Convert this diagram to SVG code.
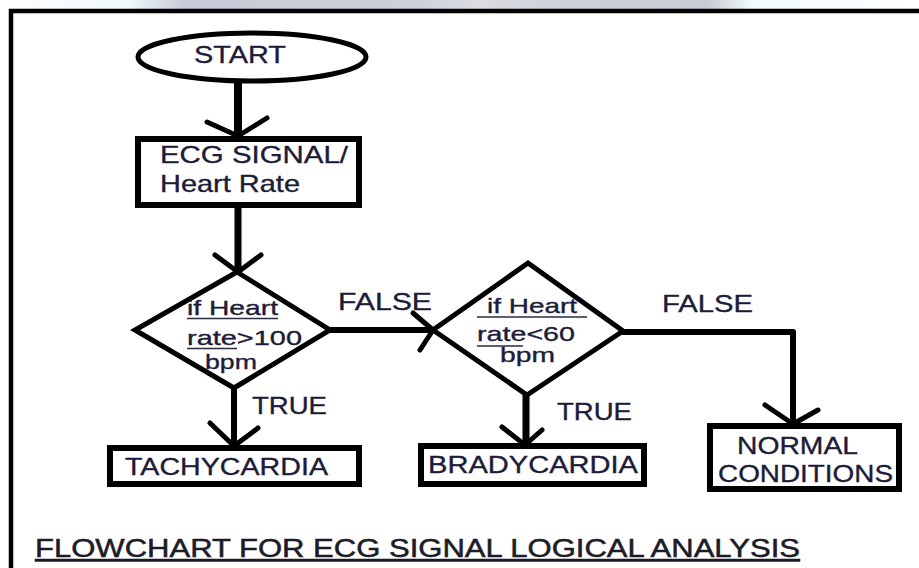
<svg xmlns="http://www.w3.org/2000/svg" width="919" height="568" viewBox="0 0 919 568">
<defs>
<linearGradient id="topg" x1="0" y1="0" x2="1" y2="0">
<stop offset="0" stop-color="#ffffff"/>
<stop offset="0.09" stop-color="#f6fafb"/>
<stop offset="0.14" stop-color="#eef8f9"/>
<stop offset="0.2" stop-color="#c9ccd8"/>
<stop offset="0.45" stop-color="#cdd0da"/>
<stop offset="0.52" stop-color="#dadce2"/>
<stop offset="0.6" stop-color="#cfd2d8"/>
<stop offset="0.77" stop-color="#c8ccd4"/>
<stop offset="0.82" stop-color="#f2fbfb"/>
<stop offset="1" stop-color="#ffffff"/>
</linearGradient>
</defs>
<style>
.ln{fill:none;stroke:#000;stroke-linecap:round;stroke-linejoin:round}
.shape{fill:#fff;stroke:#000;stroke-width:5;stroke-linejoin:miter}
.box{fill:#fff;stroke:#000;stroke-width:6}
.t{font-family:"Liberation Sans",Arial,sans-serif;font-size:24px;fill:#1c1c38;stroke:#1c1c38;stroke-width:0.35}
.s{font-size:21px}
.u{stroke:#2a2a40;stroke-width:1.5}
.title{font-family:"Liberation Sans Narrow","Liberation Sans",Arial,sans-serif;font-size:25px;fill:#1c1c28;stroke:#1c1c28;stroke-width:0.5}
</style>
<rect x="0" y="0" width="919" height="568" fill="#fff"/>
<rect x="0" y="0" width="919" height="10" fill="url(#topg)"/>
<path d="M11 568 V11 H919" fill="none" stroke="#000" stroke-width="4.5"/>

<g id="connectors">
<line class="ln" x1="238" y1="82" x2="238" y2="136" stroke-width="8"/>
<polyline class="ln" points="207,122 238,136 267,118" stroke-width="5"/>
<line class="ln" x1="238" y1="208" x2="238" y2="272" stroke-width="7"/>
<polyline class="ln" points="215,255 238,272 261,255" stroke-width="5"/>
<line class="ln" x1="330" y1="330" x2="433" y2="330" stroke-width="6"/>
<polyline class="ln" points="413,313 433,330 420,350" stroke-width="5"/>
<line class="ln" x1="234" y1="388" x2="234" y2="445" stroke-width="6"/>
<polyline class="ln" points="210,423 234,446 258,428" stroke-width="5"/>
<line class="ln" x1="526" y1="395" x2="526" y2="443" stroke-width="7"/>
<polyline class="ln" points="502,427 525,445 542,430" stroke-width="5"/>
<polyline class="ln" points="623,332 793,332 793,423" stroke-width="6"/>
<polyline class="ln" points="765,405 793,424 818,410" stroke-width="5"/>
<text class="t" x="338" y="310" textLength="94" lengthAdjust="spacingAndGlyphs">FALSE</text>
<text class="t" x="662" y="312" textLength="91" lengthAdjust="spacingAndGlyphs">FALSE</text>
<text class="t" x="252" y="414" textLength="75" lengthAdjust="spacingAndGlyphs">TRUE</text>
<text class="t" x="557" y="420" textLength="75" lengthAdjust="spacingAndGlyphs">TRUE</text>
</g>

<g id="start">
<ellipse class="shape" cx="252" cy="57" rx="114" ry="24"/>
<text class="t" x="194" y="63" font-size="25" textLength="92" lengthAdjust="spacingAndGlyphs">START</text>
</g>

<g id="ecg">
<rect class="box" x="138" y="139" width="221" height="66"/>
<text class="t" x="160" y="163" textLength="188" lengthAdjust="spacingAndGlyphs">ECG SIGNAL/</text>
<text class="t" x="160" y="192" textLength="140" lengthAdjust="spacingAndGlyphs">Heart Rate</text>
</g>

<g id="decision1">
<polygon class="shape" points="237,272 330,330 234,388 135,330"/>
<text class="t s" x="187" y="315" textLength="91" lengthAdjust="spacingAndGlyphs">if Heart</text>
<line class="u" x1="187" y1="318.5" x2="278" y2="318.5"/>
<text class="t s" x="187" y="345" textLength="115" lengthAdjust="spacingAndGlyphs">rate&gt;100</text>
<line class="u" x1="187" y1="348.5" x2="237" y2="348.5"/>
<text class="t s" x="205" y="369" textLength="52" lengthAdjust="spacingAndGlyphs">bpm</text>
</g>

<g id="decision2">
<polygon class="shape" points="528,263 623,331 527,395 433,330"/>
<text class="t s" x="487" y="313" textLength="90" lengthAdjust="spacingAndGlyphs">if Heart</text>
<line class="u" x1="477" y1="317" x2="587" y2="317"/>
<text class="t s" x="477" y="341" textLength="98" lengthAdjust="spacingAndGlyphs">rate&lt;60</text>
<line class="u" x1="477" y1="346" x2="523" y2="346"/>
<text class="t s" x="500" y="362" textLength="55" lengthAdjust="spacingAndGlyphs">bpm</text>
</g>

<g id="tachycardia">
<rect class="box" x="110" y="448" width="249" height="36"/>
<text class="t" x="125" y="475" textLength="203" lengthAdjust="spacingAndGlyphs">TACHYCARDIA</text>
</g>

<g id="bradycardia">
<rect class="box" x="421" y="446" width="223" height="38"/>
<text class="t" x="428" y="473" textLength="210" lengthAdjust="spacingAndGlyphs">BRADYCARDIA</text>
</g>

<g id="normal">
<rect class="box" x="710" y="426" width="189" height="63"/>
<text class="t" x="737" y="454" textLength="121" lengthAdjust="spacingAndGlyphs">NORMAL</text>
<text class="t" x="718" y="482" textLength="175" lengthAdjust="spacingAndGlyphs">CONDITIONS</text>
</g>

<g id="caption">
<text class="title" x="35" y="557" textLength="765" lengthAdjust="spacingAndGlyphs" text-decoration="underline">FLOWCHART FOR  ECG SIGNAL LOGICAL ANALYSIS</text>
</g>
</svg>
